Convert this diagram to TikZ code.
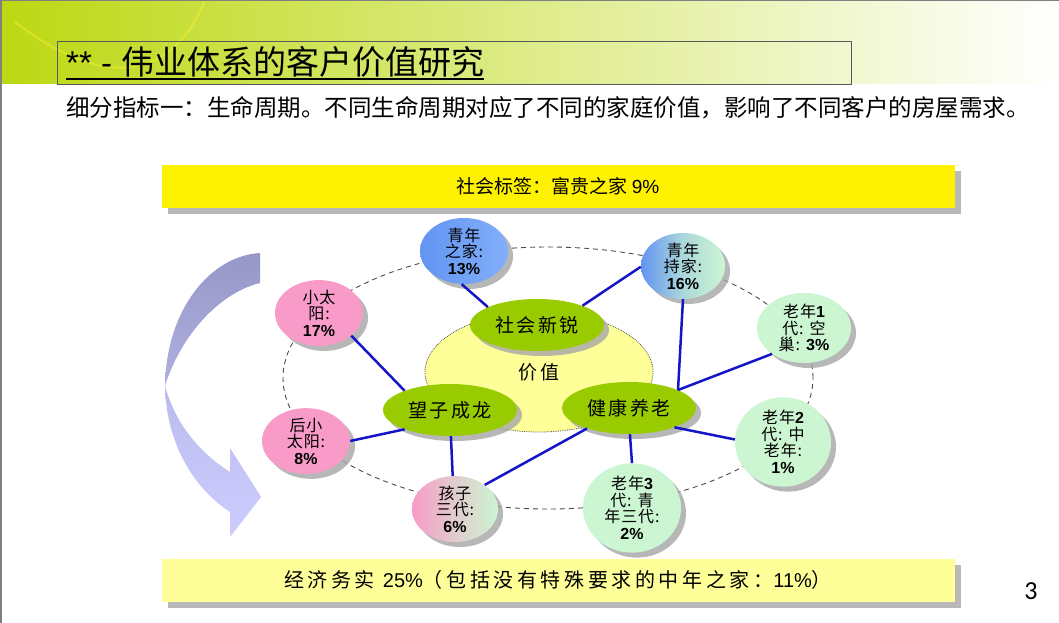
\documentclass[tikz,border=0pt]{standalone}
\usepackage{fontspec}
\setmainfont{Noto Sans CJK SC}
\newfontfamily\lat{Liberation Sans}
\newfontfamily\pgno{Carlito}
\newfontfamily\cjksp[LetterSpace=18]{Noto Sans CJK SC}
\newfontfamily\cjkgr[LetterSpace=14]{Noto Sans CJK SC}
\newfontfamily\cjkbub[LetterSpace=6]{Noto Sans CJK SC}
\usetikzlibrary{shapes.geometric,shadows}
\definecolor{hdr}{RGB}{188,216,18}
\definecolor{bl}{RGB}{20,20,200}
\definecolor{grn}{RGB}{153,204,0}
\definecolor{pale}{RGB}{255,255,153}
\definecolor{pk}{RGB}{248,155,200}
\definecolor{lg}{RGB}{204,245,210}
\definecolor{bb}{RGB}{98,148,242}
\definecolor{bblight}{RGB}{130,175,250}
\definecolor{arrdark}{RGB}{150,150,200}
\definecolor{arrmid}{RGB}{176,176,224}
\definecolor{arrlight}{RGB}{204,204,255}
\newcommand\bpc[1]{{\lat\bfseries #1}}
\begin{document}
\begin{tikzpicture}[x=1pt,y=-1pt,
  bub/.style={ellipse, inner sep=0pt, align=center,
    font=\cjkbub\fontsize{16}{16.5}\selectfont,
    drop shadow={shadow xshift=5pt, shadow yshift=-5pt, fill=black!35, opacity=0.8}},
  grnell/.style={ellipse, fill=grn, inner sep=0pt, minimum width=134pt, minimum height=52pt,
    font=\cjkgr\fontsize{19}{20}\selectfont,
    drop shadow={shadow xshift=5pt, shadow yshift=-5pt, fill=black!35, opacity=0.8}},
  link/.style={draw=bl, line width=2.5pt},
  banner/.style={rectangle, minimum width=793pt, minimum height=43pt, inner sep=0pt,
    font=\fontsize{19}{20}\selectfont,
    drop shadow={shadow xshift=6pt, shadow yshift=-6pt, fill=black!28, opacity=1}},
]
\useasboundingbox (0,0) rectangle (1059,623);
\fill[white] (0,0) rectangle (1059,623);
% header band
\fill[left color=hdr, right color=white] (0,0) rectangle (1059,84);
\draw[yellow!80!white, line width=2pt, opacity=0.4] (15,22) .. controls (110,95) and (175,75) .. (205,0);
\draw[gray, line width=1.5pt] (0.75,623) -- (0.75,0.75) -- (1059,0.75);
% title
\draw[gray!70!black, line width=0.8pt] (57,41) rectangle (851,84);
\node[anchor=west, inner sep=0pt, font=\fontsize{33}{33}\selectfont] (title) at (66,62)
  {{\lat **\ -\ }伟业体系的客户价值研究};
\draw[line width=1.8pt] ([yshift=-1pt]title.south west) -- ([yshift=-1pt]title.south east);
\node[anchor=west, inner sep=0pt, font=\fontsize{23.5}{24}\selectfont] (sub) at (66,108)
  {细分指标一：生命周期。不同生命周期对应了不同的家庭价值，影响了不同客户的房屋需求。};
% banners
\node[banner, fill=yellow] (topb) at (558,186) {社会标签：富贵之家 {\lat 9\%}};
\node[banner, fill=pale, font=\cjksp\fontsize{20}{21}\selectfont] (botb) at (558,580) {经济务实 {\lat 25\%}（包括没有特殊要求的中年之家：{\lat 11\%}）};
\node[font=\pgno\fontsize{26}{26}\selectfont, inner sep=0pt] (pg) at (1031,591) {3};
% curved arrow
\shade[top color=arrdark, bottom color=arrmid]
  (260,253) .. controls (210,256) and (166,310) .. (165,386)
  .. controls (182,332) and (222,292) .. (260,283) -- cycle;
\shade[top color=arrmid!60!arrlight, bottom color=arrlight]
  (165,386) .. controls (166,442) and (193,488) .. (230,512)
  -- (230,537) -- (261,497) -- (230,448) -- (230,472)
  .. controls (200,453) and (176,425) .. (165,386) -- cycle;
% dashed ring
\draw[gray!60!black, line width=0.9pt, dash pattern=on 5pt off 4pt]
  (548,378) ellipse [x radius=265pt, y radius=131pt];
% value ellipse
\node[ellipse, fill=pale, draw=gray!60!black, densely dotted, line width=0.8pt,
  minimum width=228pt, minimum height=120pt, inner sep=0pt,
  font=\cjkgr\fontsize{19}{20}\selectfont] (val) at (539,372) {价值};
% green ellipses
\node[grnell] (sx) at (537,325) {社会新锐};
\node[grnell] (wz) at (450,410) {望子成龙};
\node[grnell] (jk) at (629,408) {健康养老};
% bubbles
\node[bub, minimum width=88pt, minimum height=62pt, left color=bb, right color=bblight] (y13) at (464,251)
  {青年\\之家:\\\bpc{13\%}};
\node[bub, minimum width=84pt, minimum height=62pt, left color=bb, right color=lg, middle color=lg!70!bb] (y16) at (683,266)
  {青年\\持家:\\\bpc{16\%}};
\node[bub, minimum width=88pt, minimum height=62pt, fill=pk] (s17) at (319,313)
  {小太\\阳:\\\bpc{17\%}};
\node[bub, minimum width=88pt, minimum height=64pt, fill=pk] (h8) at (306,441)
  {后小\\太阳:\\\bpc{8\%}};
\node[bub, minimum width=94pt, minimum height=70pt, fill=lg] (o1) at (804,328)
  {老年\bpc{1}\\代: 空\\巢: \bpc{3\%}};
\node[bub, minimum width=96pt, minimum height=72pt, fill=lg] (o2) at (783,442)
  {老年\bpc{2}\\代: 中\\老年:\\\bpc{1\%}};
\node[bub, minimum width=86pt, minimum height=62pt, left color=pk, right color=lg, middle color=lg!55!pk] (k6) at (455,509)
  {孩子\\三代:\\\bpc{6\%}};
\node[bub, minimum width=98pt, minimum height=72pt, fill=lg] (o3) at (632,508)
  {老年\bpc{3}\\代: 青\\年三代:\\\bpc{2\%}};
\coordinate (J) at (678,390);
% links
\draw[link] (y13.-94) -- (sx.160);
\draw[link] (y16.181) -- (sx.23);
\draw[link] (y16.-90) -- (J);
\draw[link] (o1.-141) -- (J);
\draw[link] (s17.-35) -- (wz.157);
\draw[link] (h8.0) -- (wz.-157);
\draw[link] (wz.-88) -- (k6.94);
\draw[link] (jk.-154) -- (k6.39);
\draw[link] (jk.-88) -- (o3.90);
\draw[link] (jk.-23) -- (o2.177);
\end{tikzpicture}
\end{document}
